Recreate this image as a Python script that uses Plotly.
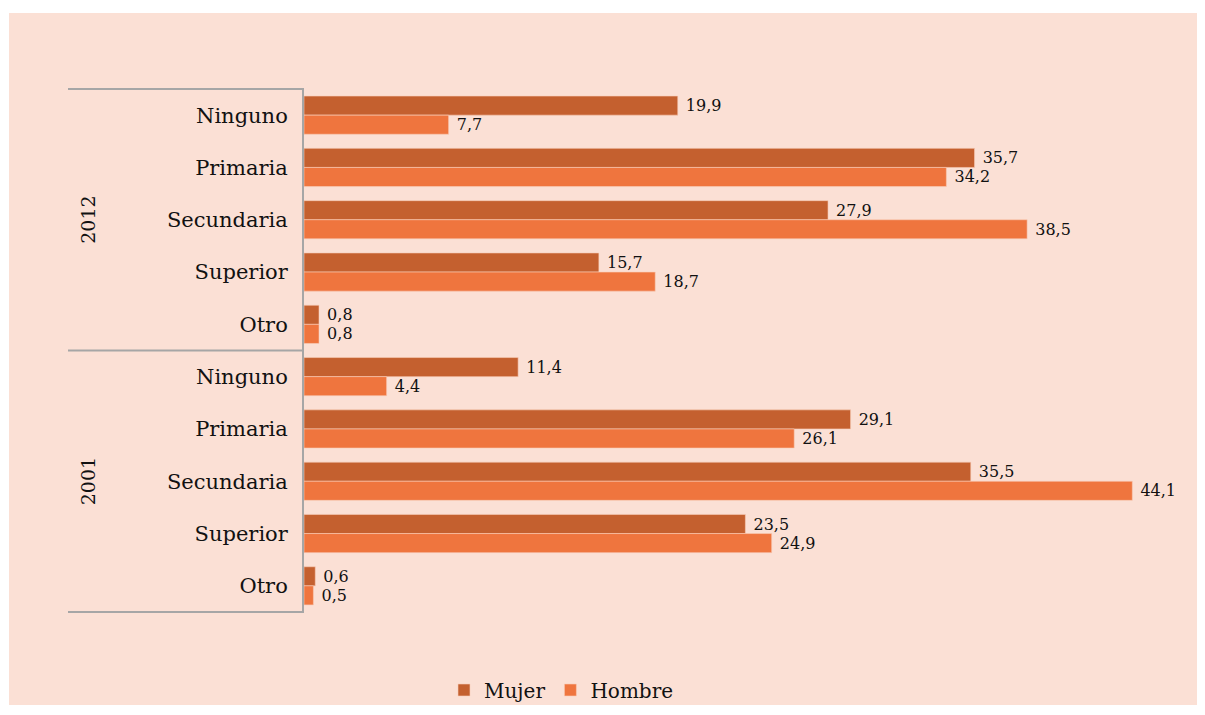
import plotly.graph_objects as go

years = ["2012", "2001"]
levels = ["Ninguno", "Primaria", "Secundaria", "Superior", "Otro"]
mujer = {"2012": [19.9, 35.7, 27.9, 15.7, 0.8], "2001": [11.4, 29.1, 35.5, 23.5, 0.6]}
hombre = {"2012": [7.7, 34.2, 38.5, 18.7, 0.8], "2001": [4.4, 26.1, 44.1, 24.9, 0.5]}
series_names = ["Mujer", "Hombre"]
colors = ["#C4602F", "#EF753E"]

cats = [f"{y} {l}" for y in years for l in levels]
labels = [l for y in years for l in levels]
vals_m = [v for y in years for v in mujer[y]]
vals_h = [v for y in years for v in hombre[y]]

FONT = "DejaVu Serif"
fig = go.Figure()
for name, vals, col in zip(series_names, [vals_m, vals_h], colors):
    fig.add_trace(go.Bar(
        y=cats, x=vals, name=name, orientation="h",
        marker=dict(color=col, line=dict(color="#F9CDB9", width=0.6)),
        texttemplate="\u00a0%{x:.1f}", textposition="outside", cliponaxis=False,
        textfont=dict(family=FONT, size=16, color="#111111"),
    ))

OFF = 8  # page offset of the figure inside the browser window
L, T, B, R = 304 - OFF, 88 - OFF, 102, 37
W, H = 1205 - OFF, 715 - OFF
pw, ph = W - L - R, H - T - B

def px(xs):
    return (xs - OFF - L) / pw

def py(ys):
    return (H - B - (ys - OFF)) / ph

shapes = [dict(type="rect", xref="paper", yref="paper", x0=px(9), x1=px(1197), y0=py(705), y1=py(13),
               fillcolor="#FBE0D5", line=dict(width=0), layer="below")]
for yv in [-0.5, 4.5, 9.5]:
    shapes.append(dict(type="line", xref="paper", yref="y", x0=px(68), x1=0, y0=yv, y1=yv,
                       line=dict(color="#A6A6A6", width=2)))

annotations = []
for y in years:
    annotations.append(dict(text=y, xref="paper", yref="y", x=px(88), y=f"{y} Secundaria",
                            textangle=-90, showarrow=False, font=dict(family=FONT, size=19, color="#111111"),
                            xanchor="center", yanchor="middle"))

fig.update_layout(
    width=W, height=H,
    margin=dict(l=L, r=R, t=T, b=B, autoexpand=False),
    paper_bgcolor="white", plot_bgcolor="rgba(0,0,0,0)",
    barmode="group", bargap=0.27, bargroupgap=0.0,
    separators=",.",
    font=dict(family=FONT, color="#111111"),
    shapes=shapes, annotations=annotations,
    showlegend=True,
    legend=dict(orientation="h", x=px(444), xanchor="left", y=py(690), yanchor="middle",
                font=dict(family=FONT, size=20, color="#111111"), bgcolor="rgba(0,0,0,0)",
                traceorder="normal"),
)
fig.update_xaxes(range=[0, 46], showticklabels=False, showgrid=False, zeroline=False, showline=False)
fig.update_yaxes(categoryorder="array", categoryarray=cats, autorange="reversed",
                 tickmode="array", tickvals=cats, ticktext=labels,
                 tickfont=dict(family=FONT, size=21, color="#111111"),
                 showline=True, linecolor="#A6A6A6", linewidth=2, showgrid=False,
                 ticks="", ticklabelstandoff=10)
fig.write_html("out.html")
